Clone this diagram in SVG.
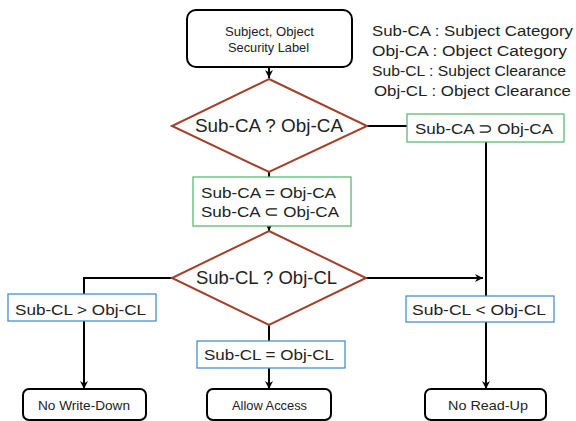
<svg xmlns="http://www.w3.org/2000/svg" width="576" height="421" viewBox="0 0 576 421">
<defs>
<marker id="arr" viewBox="0 0 10 10" refX="10" refY="5" markerWidth="4" markerHeight="4" orient="auto" markerUnits="strokeWidth">
<path d="M0,0 L10,5 L0,10 L3,5 Z" fill="#000"/>
</marker>
<style>
.term{fill:#fff;stroke:#000;stroke-width:2}
.dia{fill:#fff;stroke:#A0412B;stroke-width:2}
.gbox{fill:#fff;stroke:#5DBB72;stroke-width:1.3}
.bbox{fill:#fff;stroke:#4A8FCC;stroke-width:1.3}
.conn{fill:none;stroke:#000;stroke-width:2}
text{font-family:"Liberation Sans","Noto Sans",sans-serif;fill:#222}
.t13{font-size:13px;text-anchor:middle}
.t15{font-size:15.5px;text-anchor:middle}
.t17{font-size:17.5px;text-anchor:middle}
.leg{font-size:15.5px;text-anchor:middle}
</style>
</defs>
<rect width="576" height="421" fill="#fff"/>
<g id="connectors">
<line class="conn" x1="269" y1="67" x2="269" y2="78" marker-end="url(#arr)"/>
<line class="conn" x1="367" y1="126" x2="407" y2="126"/>
<line class="conn" x1="269" y1="172" x2="269" y2="178"/>
<line class="conn" x1="269" y1="226" x2="269" y2="231" marker-end="url(#arr)"/>
<line class="conn" x1="486" y1="142" x2="486" y2="389" marker-end="url(#arr)"/>
<line class="conn" x1="366" y1="278" x2="483" y2="278" marker-end="url(#arr)"/>
<polyline class="conn" points="172,278 84,278 84,389" marker-end="url(#arr)"/>
<line class="conn" x1="269" y1="325" x2="269" y2="341"/>
<line class="conn" x1="269" y1="368" x2="269" y2="389" marker-end="url(#arr)"/>
</g>
<g id="start">
<rect class="term" x="187" y="10" width="165" height="57" rx="9"/>
<text class="t13" x="269.5" y="36" textLength="89" lengthAdjust="spacingAndGlyphs">Subject, Object</text>
<text class="t13" x="268.5" y="52" textLength="81" lengthAdjust="spacingAndGlyphs">Security Label</text>
</g>
<g id="legend">
<text class="leg" x="472.5" y="36" textLength="201" lengthAdjust="spacingAndGlyphs">Sub-CA : Subject Category</text>
<text class="leg" x="469.5" y="56" textLength="195" lengthAdjust="spacingAndGlyphs">Obj-CA : Object Category</text>
<text class="leg" x="469" y="76" textLength="194" lengthAdjust="spacingAndGlyphs">Sub-CL : Subject Clearance</text>
<text class="leg" x="472.5" y="96" textLength="197" lengthAdjust="spacingAndGlyphs">Obj-CL : Object Clearance</text>
</g>
<g id="decision1">
<polygon class="dia" points="269,79 367,126 269,172 172,126"/>
<text class="t17" x="269" y="132" textLength="148" lengthAdjust="spacingAndGlyphs">Sub-CA ? Obj-CA</text>
</g>
<g id="ca-superset">
<rect class="gbox" x="407" y="114" width="157" height="28"/>
<text class="t15" x="484" y="134" textLength="138" lengthAdjust="spacingAndGlyphs">Sub-CA ⊃ Obj-CA</text>
</g>
<g id="ca-equal-subset">
<rect class="gbox" x="193" y="177" width="158" height="49"/>
<text class="t15" x="268.5" y="198" textLength="135" lengthAdjust="spacingAndGlyphs">Sub-CA = Obj-CA</text>
<text class="t15" x="270" y="217" textLength="138" lengthAdjust="spacingAndGlyphs">Sub-CA ⊂ Obj-CA</text>
</g>
<g id="decision2">
<polygon class="dia" points="269,231 366,278 269,325 172,278"/>
<text class="t17" x="266.5" y="284" textLength="141" lengthAdjust="spacingAndGlyphs">Sub-CL ? Obj-CL</text>
</g>
<g id="cl-greater">
<rect class="bbox" x="8" y="294" width="148" height="27"/>
<text class="t15" x="80.5" y="315" textLength="131" lengthAdjust="spacingAndGlyphs">Sub-CL &gt; Obj-CL</text>
</g>
<g id="cl-less">
<rect class="bbox" x="406" y="296" width="148" height="26"/>
<text class="t15" x="479" y="315" textLength="134" lengthAdjust="spacingAndGlyphs">Sub-CL &lt; Obj-CL</text>
</g>
<g id="cl-equal">
<rect class="bbox" x="197" y="341" width="148" height="27"/>
<text class="t15" x="269" y="360" textLength="130" lengthAdjust="spacingAndGlyphs">Sub-CL = Obj-CL</text>
</g>
<g id="no-write-down">
<rect class="term" x="23" y="389" width="123" height="31" rx="6"/>
<text class="t13" x="84" y="410" textLength="92" lengthAdjust="spacingAndGlyphs">No Write-Down</text>
</g>
<g id="allow-access">
<rect class="term" x="207" y="389" width="124" height="31" rx="6"/>
<text class="t13" x="269.5" y="410" textLength="75" lengthAdjust="spacingAndGlyphs">Allow Access</text>
</g>
<g id="no-read-up">
<rect class="term" x="425" y="389" width="121" height="31" rx="6"/>
<text class="t13" x="488" y="410" textLength="80" lengthAdjust="spacingAndGlyphs">No Read-Up</text>
</g>
</svg>
